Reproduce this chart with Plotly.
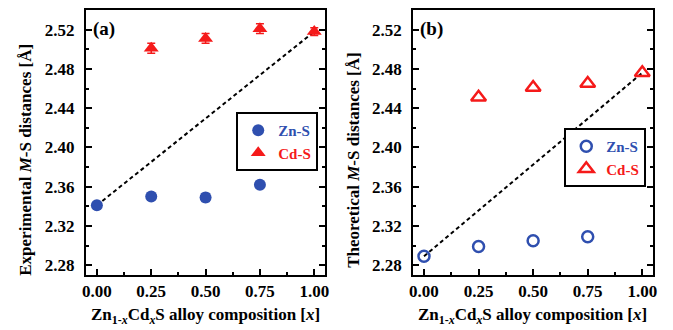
import plotly.graph_objects as go

# Composition x of Zn(1-x)Cd(x)S alloys
x_comp = [0.0, 0.25, 0.5, 0.75, 1.0]

# Experimental bond lengths (Å)
exp_zns_x = [0.0, 0.25, 0.5, 0.75]
exp_zns = [2.341, 2.350, 2.349, 2.362]
exp_zns_err = [0.002, 0.002, 0.004, 0.002]
exp_cds_x = [0.25, 0.5, 0.75, 1.0]
exp_cds = [2.501, 2.511, 2.521, 2.518]
exp_cds_err = [0.005, 0.005, 0.005, 0.004]

# Theoretical bond lengths (Å)
th_zns_x = [0.0, 0.25, 0.5, 0.75]
th_zns = [2.289, 2.299, 2.305, 2.309]
th_cds_x = [0.25, 0.5, 0.75, 1.0]
th_cds = [2.451, 2.461, 2.465, 2.476]

x_ticks = [0.0, 0.25, 0.5, 0.75, 1.0]
x_ticktext = ["0.00", "0.25", "0.50", "0.75", "1.00"]
y_ticks = [2.28, 2.32, 2.36, 2.40, 2.44, 2.48, 2.52]
series_names = ["Zn-S", "Cd-S"]

BLUE = "#2F4FAF"
RED = "#F51A1A"
FONT = "Liberation Serif"
W, H = 673, 330


def colored(name, color):
    return "<span style='color:%s'>%s</span>" % (color, name)


fig = go.Figure()

# Panel (a): experimental
fig.add_trace(go.Scatter(
    x=[exp_zns_x[0], exp_cds_x[-1]], y=[exp_zns[0], exp_cds[-1]],
    mode="lines", line=dict(color="black", width=2, dash="4px,3px"),
    showlegend=False, xaxis="x", yaxis="y"))
fig.add_trace(go.Scatter(
    x=exp_zns_x, y=exp_zns, mode="markers", name=colored(series_names[0], BLUE),
    marker=dict(symbol="circle", size=12, color=BLUE),
    error_y=dict(type="data", array=exp_zns_err, color=BLUE, thickness=1.5, width=4),
    legend="legend", xaxis="x", yaxis="y"))
fig.add_trace(go.Scatter(
    x=exp_cds_x, y=exp_cds, mode="markers", name=colored(series_names[1], RED),
    marker=dict(symbol="triangle-up", size=13, color=RED),
    error_y=dict(type="data", array=exp_cds_err, color=RED, thickness=1.5, width=4),
    legend="legend", xaxis="x", yaxis="y"))

# Panel (b): theoretical
fig.add_trace(go.Scatter(
    x=[th_zns_x[0], th_cds_x[-1]], y=[th_zns[0], th_cds[-1]],
    mode="lines", line=dict(color="black", width=2, dash="4px,3px"),
    showlegend=False, xaxis="x2", yaxis="y2"))
fig.add_trace(go.Scatter(
    x=th_zns_x, y=th_zns, mode="markers", name=colored(series_names[0], BLUE),
    marker=dict(symbol="circle-open", size=11, color=BLUE, line=dict(width=2.5, color=BLUE)),
    legend="legend2", xaxis="x2", yaxis="y2"))
fig.add_trace(go.Scatter(
    x=th_cds_x, y=th_cds, mode="markers", name=colored(series_names[1], RED),
    marker=dict(symbol="triangle-up-open", size=13, color=RED, line=dict(width=2.5, color=RED)),
    legend="legend2", xaxis="x2", yaxis="y2"))

xaxis_common = dict(
    range=[-0.05, 1.05], tickvals=x_ticks, ticktext=x_ticktext,
    ticks="inside", ticklen=6, tickwidth=1.5, tickcolor="black",
    minor=dict(ticks="inside", ticklen=3, tickwidth=1.5, dtick=0.125, tick0=0, tickcolor="black"),
    showline=True, linewidth=2, linecolor="black", mirror=True,
    showgrid=False, zeroline=False, ticklabelstandoff=0,
    tickfont=dict(family=FONT, size=17, color="black", weight="bold"),
)
yaxis_common = dict(
    range=[2.27, 2.54], tickvals=y_ticks, tickformat=".2f",
    ticks="inside", ticklen=6, tickwidth=1.5, tickcolor="black",
    minor=dict(ticks="inside", ticklen=3, tickwidth=1.5, dtick=0.02, tick0=2.28, tickcolor="black"),
    showline=True, linewidth=2, linecolor="black", mirror="ticks",
    showgrid=False, zeroline=False, ticklabelstandoff=6,
    tickfont=dict(family=FONT, size=17, color="black", weight="bold"),
)

legend_common = dict(
    bgcolor="white", bordercolor="black", borderwidth=2,
    font=dict(family=FONT, size=15, weight="bold"),
    xanchor="right", yanchor="top", tracegroupgap=0, itemwidth=30,
)

y_dom = [1 - 275 / H, 1 - 10 / H]
xtitle = "Zn<sub>1-<i>x</i></sub>Cd<sub><i>x</i></sub>S alloy composition [<i>x</i>]"
title_font = dict(family=FONT, size=17, weight="bold")

annotations = [
    dict(text="(a)", x=88 / W, y=1 - 29 / H, xref="paper", yref="paper",
         xanchor="left", yanchor="middle", showarrow=False,
         font=dict(family=FONT, size=19, weight="bold")),
    dict(text="(b)", x=419 / W, y=1 - 29 / H, xref="paper", yref="paper",
         xanchor="left", yanchor="middle", showarrow=False,
         font=dict(family=FONT, size=19, weight="bold")),
    dict(text=xtitle, x=204 / W, y=1 - 316 / H, xref="paper", yref="paper",
         xanchor="center", yanchor="middle", showarrow=False, font=title_font),
    dict(text=xtitle, x=535 / W, y=1 - 316 / H, xref="paper", yref="paper",
         xanchor="center", yanchor="middle", showarrow=False, font=title_font),
    dict(text="Experimental <i>M</i>-S distances [Å]", x=21 / W, y=1 - 160 / H,
         xref="paper", yref="paper", textangle=-90,
         xanchor="center", yanchor="middle", showarrow=False, font=title_font),
    dict(text="Theoretical <i>M</i>-S distances [Å]", x=353 / W, y=1 - 160 / H,
         xref="paper", yref="paper", textangle=-90,
         xanchor="center", yanchor="middle", showarrow=False, font=title_font),
]

fig.update_layout(
    width=W, height=H,
    margin=dict(l=0, r=0, t=0, b=0),
    paper_bgcolor="white", plot_bgcolor="white",
    font=dict(family=FONT, color="black"),
    xaxis=dict(domain=[83 / W, 325 / W], anchor="y", **xaxis_common),
    yaxis=dict(domain=y_dom, anchor="x", **yaxis_common),
    xaxis2=dict(domain=[414 / W, 657 / W], anchor="y2", **xaxis_common),
    yaxis2=dict(domain=y_dom, anchor="x2", **yaxis_common),
    legend=dict(x=318 / W, y=1 - 112 / H, **legend_common),
    legend2=dict(x=650 / W, y=1 - 128 / H, **legend_common),
    annotations=annotations,
)

fig.write_html("out.html")
